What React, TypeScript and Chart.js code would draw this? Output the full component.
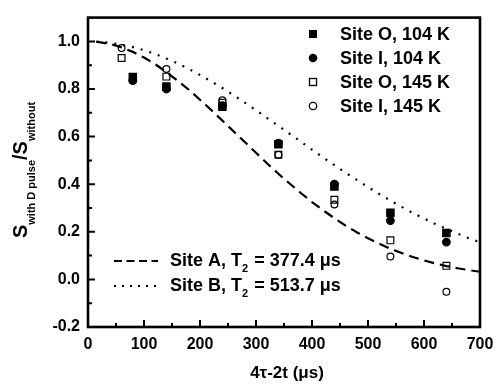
import React, { useEffect, useRef } from "react";
import { Chart, registerables } from "chart.js";

Chart.register(...registerables);

const X_TICKS = [0, 100, 200, 300, 400, 500, 600, 700];
const X_MINOR = [50, 150, 250, 350, 450, 550, 650];
const Y_TICKS = [-0.2, 0.0, 0.2, 0.4, 0.6, 0.8, 1.0];
const Y_MINOR = [-0.1, 0.1, 0.3, 0.5, 0.7, 0.9];

const X_104K = [80, 140, 240, 340, 440, 540, 640];
const X_145K = [60, 140, 240, 340, 440, 540, 640];
const SITE_O_104 = [0.85, 0.81, 0.726, 0.568, 0.39, 0.28, 0.195];
const SITE_I_104 = [0.835, 0.8, 0.73, 0.573, 0.4, 0.247, 0.157];
const SITE_O_145 = [0.93, 0.852, 0.742, 0.524, 0.335, 0.164, 0.057];
const SITE_I_145 = [0.972, 0.884, 0.753, 0.524, 0.315, 0.096, -0.052];

const CURVE_X = [
  15, 20, 40, 60, 80, 100, 120, 140, 160, 180, 200, 220, 240, 260, 280, 300, 320, 340,
  360, 380, 400, 420, 440, 460, 480, 500, 520, 540, 560, 580, 600, 620, 640, 660, 680, 700,
];
const SITE_A = [
  0.998, 0.997, 0.989, 0.975, 0.956, 0.932, 0.904, 0.871, 0.835, 0.797, 0.755, 0.712,
  0.667, 0.622, 0.577, 0.532, 0.487, 0.444, 0.403, 0.363, 0.325, 0.29, 0.257, 0.226,
  0.198, 0.173, 0.15, 0.129, 0.111, 0.094, 0.08, 0.067, 0.056, 0.047, 0.039, 0.032,
];
const SITE_B = [
  0.999, 0.998, 0.994, 0.986, 0.976, 0.963, 0.947, 0.928, 0.908, 0.884, 0.859, 0.832,
  0.804, 0.774, 0.743, 0.711, 0.678, 0.645, 0.612, 0.579, 0.545, 0.512, 0.48, 0.448,
  0.418, 0.388, 0.359, 0.331, 0.305, 0.279, 0.256, 0.233, 0.212, 0.192, 0.173, 0.156,
];

const LEGEND_POINTS = ["Site O, 104 K", "Site I, 104 K", "Site O, 145 K", "Site I, 145 K"];
const LEGEND_LINES = [
  { name: "Site A, T", sub: "2", rest: " = 377.4 \u03bcs" },
  { name: "Site B, T", sub: "2", rest: " = 513.7 \u03bcs" },
];
const X_TITLE = "4\u03c4-2t (\u03bcs)";

const FONT = "'Liberation Sans', Arial, sans-serif";
const INK = "#000000";

const pts = (xs: number[], ys: number[]) => xs.map((x, i) => ({ x, y: ys[i] }));

function drawMarker(ctx: CanvasRenderingContext2D, kind: number, x: number, y: number) {
  ctx.save();
  ctx.lineWidth = 1.3;
  ctx.strokeStyle = INK;
  ctx.fillStyle = INK;
  if (kind === 0) {
    ctx.fillRect(x - 4, y - 4, 8, 8);
  } else if (kind === 1) {
    ctx.beginPath();
    ctx.arc(x, y, 4.3, 0, Math.PI * 2);
    ctx.fill();
  } else if (kind === 2) {
    ctx.strokeRect(x - 3.5, y - 3.5, 7, 7);
  } else {
    ctx.beginPath();
    ctx.arc(x, y, 3.7, 0, Math.PI * 2);
    ctx.stroke();
  }
  ctx.restore();
}

const decorPlugin = {
  id: "decor",
  afterDraw(chart: any) {
    const { ctx, chartArea: a, scales } = chart;
    const xs = scales.x;
    const ys = scales.y;
    ctx.save();
    // frame
    ctx.strokeStyle = INK;
    ctx.lineWidth = 2.6;
    ctx.strokeRect(a.left, a.top, a.right - a.left, a.bottom - a.top);
    // ticks
    ctx.lineWidth = 2;
    ctx.beginPath();
    X_TICKS.forEach((v) => {
      const px = xs.getPixelForValue(v);
      ctx.moveTo(px, a.bottom);
      ctx.lineTo(px, a.bottom - 7);
    });
    X_MINOR.forEach((v) => {
      const px = xs.getPixelForValue(v);
      ctx.moveTo(px, a.bottom);
      ctx.lineTo(px, a.bottom - 4);
    });
    Y_TICKS.forEach((v) => {
      const py = ys.getPixelForValue(v);
      ctx.moveTo(a.left, py);
      ctx.lineTo(a.left + 7, py);
    });
    Y_MINOR.forEach((v) => {
      const py = ys.getPixelForValue(v);
      ctx.moveTo(a.left, py);
      ctx.lineTo(a.left + 4, py);
    });
    ctx.stroke();

    // point legend
    ctx.fillStyle = INK;
    ctx.textBaseline = "middle";
    ctx.textAlign = "left";
    ctx.font = `bold 18px ${FONT}`;
    LEGEND_POINTS.forEach((label, i) => {
      const y = 34 + i * 24;
      drawMarker(ctx, i, 313, y);
      ctx.fillText(label, 340, y + 1);
    });

    // line legend
    LEGEND_LINES.forEach((item, i) => {
      const y = 261 + i * 25;
      ctx.save();
      ctx.lineWidth = 2;
      ctx.setLineDash(i === 0 ? [8, 4.5] : [2, 6]);
      ctx.beginPath();
      ctx.moveTo(114, y);
      ctx.lineTo(158, y);
      ctx.stroke();
      ctx.restore();
      let x = 170;
      ctx.font = `bold 18px ${FONT}`;
      ctx.fillText(item.name, x, y);
      x += ctx.measureText(item.name).width;
      ctx.font = `bold 11px ${FONT}`;
      ctx.fillText(item.sub, x, y + 8);
      x += ctx.measureText(item.sub).width + 1;
      ctx.font = `bold 18px ${FONT}`;
      ctx.fillText(item.rest, x, y);
    });

    // x title
    ctx.textAlign = "center";
    ctx.textBaseline = "alphabetic";
    ctx.font = `bold 17px ${FONT}`;
    ctx.fillText(X_TITLE, 287, 378);

    // y title with subscripts
    const parts = [
      { t: "S", big: true },
      { t: "with D pulse", big: false },
      { t: "/S", big: true },
      { t: "without", big: false },
    ];
    const bigF = `bold 20px ${FONT}`;
    const smallF = `bold 11px ${FONT}`;
    let total = 0;
    parts.forEach((p) => {
      ctx.font = p.big ? bigF : smallF;
      total += ctx.measureText(p.t).width;
    });
    ctx.translate(27, 170);
    ctx.rotate(-Math.PI / 2);
    ctx.textAlign = "left";
    let tx = -total / 2;
    parts.forEach((p) => {
      ctx.font = p.big ? bigF : smallF;
      ctx.fillText(p.t, tx, p.big ? 0 : 8);
      tx += ctx.measureText(p.t).width;
    });
    ctx.restore();
  },
};

export default function App() {
  const ref = useRef<HTMLCanvasElement | null>(null);
  useEffect(() => {
    document.body.style.margin = "0";
    document.body.style.background = "#ffffff";
    const canvas = ref.current;
    if (!canvas) return;
    const scatterDs = (label: string, data: any, style: string, radius: number, filled: boolean) => ({
      label,
      data,
      showLine: false,
      pointStyle: style,
      pointRadius: radius,
      pointBackgroundColor: filled ? INK : "rgba(255,255,255,0)",
      pointBorderColor: INK,
      pointBorderWidth: 1.2,
    });
    const chart = new Chart(canvas, {
      type: "scatter",
      data: {
        datasets: [
          {
            label: "Site A",
            data: pts(CURVE_X, SITE_A),
            showLine: true,
            borderColor: INK,
            borderWidth: 2.2,
            borderDash: [10, 6],
            pointRadius: 0,
            tension: 0,
          } as any,
          {
            label: "Site B",
            data: pts(CURVE_X, SITE_B),
            showLine: true,
            borderColor: INK,
            borderWidth: 2.2,
            borderDash: [2, 7],
            pointRadius: 0,
            tension: 0,
          } as any,
          scatterDs("Site O, 145 K", pts(X_145K, SITE_O_145), "rect", 4.8, false),
          scatterDs("Site I, 145 K", pts(X_145K, SITE_I_145), "circle", 3.4, false),
          scatterDs("Site I, 104 K", pts(X_104K, SITE_I_104), "circle", 3.8, true),
          scatterDs("Site O, 104 K", pts(X_104K, SITE_O_104), "rect", 5.2, true),
        ],
      },
      options: {
        responsive: false,
        animation: false,
        layout: { padding: { left: 0, top: 12, right: 22, bottom: 0 } },
        plugins: { legend: { display: false }, tooltip: { enabled: false } },
        scales: {
          x: {
            type: "linear",
            min: 0,
            max: 700,
            grid: { display: false, drawTicks: false },
            border: { display: false },
            ticks: {
              padding: 8,
              color: INK,
              font: { family: FONT, size: 16, weight: "bold" },
              callback: (v: any) => String(v),
            },
            afterBuildTicks: (s: any) => {
              s.ticks = X_TICKS.map((value) => ({ value }));
            },
            afterFit: (s: any) => {
              s.height = 58;
            },
          },
          y: {
            type: "linear",
            min: -0.2,
            max: 1.1,
            grid: { display: false, drawTicks: false },
            border: { display: false },
            ticks: {
              padding: 8,
              color: INK,
              font: { family: FONT, size: 16, weight: "bold" },
              callback: (v: any) => Number(v).toFixed(1),
            },
            afterBuildTicks: (s: any) => {
              s.ticks = Y_TICKS.map((value) => ({ value }));
            },
            afterFit: (s: any) => {
              s.width = 88;
            },
          },
        },
      } as any,
      plugins: [decorPlugin],
    });
    return () => chart.destroy();
  }, []);
  return (
    <div style={{ width: 502, height: 385 }}>
      <canvas ref={ref} width={502} height={385} style={{ display: "block" }} />
    </div>
  );
}
